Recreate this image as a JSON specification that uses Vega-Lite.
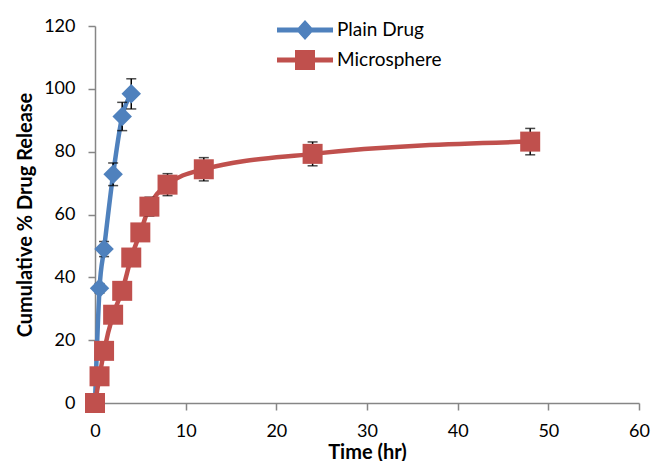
{
  "$schema": "https://vega.github.io/schema/vega-lite/v6.json",
  "width": 544,
  "height": 377,
  "autosize": "none",
  "padding": {"left": 95, "top": 26, "right": 17, "bottom": 58},
  "background": "white",
  "config": {
    "view": {"stroke": null},
    "font": "Lato",
    "axis": {
      "grid": false,
      "labelFlush": false,
      "domainColor": "#868686",
      "domainWidth": 1.5,
      "tickColor": "#868686",
      "tickWidth": 1.5,
      "tickSize": 7,
      "labelFont": "Lato",
      "labelFontSize": 18,
      "labelColor": "#000000",
      "titleFont": "Lato",
      "titleFontSize": 20,
      "titleFontWeight": "bold",
      "titleColor": "#000000"
    }
  },
  "data": {
    "values": [
      {"series": "Plain Drug", "time": 0, "pct": 0, "sd": 0},
      {"series": "Plain Drug", "time": 0.5, "pct": 36.5, "sd": 1.5},
      {"series": "Plain Drug", "time": 1, "pct": 49, "sd": 2.4},
      {"series": "Plain Drug", "time": 2, "pct": 72.8, "sd": 3.6},
      {"series": "Plain Drug", "time": 3, "pct": 91.2, "sd": 4.5},
      {"series": "Plain Drug", "time": 4, "pct": 98.4, "sd": 4.8},
      {"series": "Microsphere", "time": 0, "pct": 0, "sd": 0},
      {"series": "Microsphere", "time": 0.5, "pct": 8.5, "sd": 1},
      {"series": "Microsphere", "time": 1, "pct": 16.6, "sd": 1.5},
      {"series": "Microsphere", "time": 2, "pct": 28.1, "sd": 2},
      {"series": "Microsphere", "time": 3, "pct": 35.7, "sd": 2},
      {"series": "Microsphere", "time": 4, "pct": 46.3, "sd": 2.5},
      {"series": "Microsphere", "time": 5, "pct": 54.3, "sd": 2.5},
      {"series": "Microsphere", "time": 6, "pct": 62.5, "sd": 3},
      {"series": "Microsphere", "time": 8, "pct": 69.5, "sd": 3.5},
      {"series": "Microsphere", "time": 12, "pct": 74.4, "sd": 3.7},
      {"series": "Microsphere", "time": 24, "pct": 79.3, "sd": 3.8},
      {"series": "Microsphere", "time": 48, "pct": 83.2, "sd": 4.2}
    ]
  },
  "encoding": {
    "x": {"field": "time", "type": "quantitative", "title": "Time (hr)",
      "scale": {"domain": [0, 60], "nice": false, "padding": 0, "zero": false},
      "axis": {"values": [0, 10, 20, 30, 40, 50, 60], "labelPadding": 12, "titlePadding": 2}},
    "y": {"field": "pct", "type": "quantitative", "title": "Cumulative % Drug Release",
      "scale": {"domain": [0, 120], "nice": false, "padding": 0},
      "axis": {"values": [0, 20, 40, 60, 80, 100, 120], "labelPadding": 13, "titlePadding": 8}}
  },
  "layer": [
    {
      "mark": {"type": "line", "interpolate": "monotone", "strokeWidth": 4.5, "strokeCap": "round"},
      "encoding": {
        "color": {"field": "series", "type": "nominal",
          "scale": {"domain": ["Plain Drug", "Microsphere"], "range": ["#4F81BD", "#C0504D"]},
          "legend": {
            "orient": "none", "legendX": 200, "legendY": -6, "title": null, "padding": 0,
            "labelFont": "Lato", "labelFontSize": 19, "labelColor": "#000000",
            "symbolSize": 400, "rowPadding": 10, "labelOffset": 22,
            "encode": {"symbols": {"update": {
              "shape": {"signal": "datum.value === 'Plain Drug' ? 'M-2.8,-0.25L2.8,-0.25L2.8,0.25L-2.8,0.25Z M-0.9,0L0,-1L0.9,0L0,1Z' : 'M-2.8,-0.25L2.8,-0.25L2.8,0.25L-2.8,0.25Z M-1,-1L1,-1L1,1L-1,1Z'"},
              "fill": {"signal": "datum.value === 'Plain Drug' ? '#4F81BD' : '#C0504D'"},
              "stroke": {"value": "transparent"},
              "strokeWidth": {"value": 0},
              "opacity": {"value": 1},
              "size": {"value": 400}
            }}}
          }}
      }
    },
    {
      "mark": {"type": "errorbar", "color": "black", "ticks": {"size": 10, "color": "black", "thickness": 1.5}, "rule": {"color": "black", "strokeWidth": 1.5}},
      "encoding": {
        "yError": {"field": "sd"}
      }
    },
    {
      "transform": [{"filter": "datum.series === 'Plain Drug'"}],
      "mark": {"type": "point", "filled": true, "opacity": 1, "shape": "diamond", "size": 380, "color": "#4F81BD"}
    },
    {
      "transform": [{"filter": "datum.series === 'Microsphere'"}],
      "mark": {"type": "point", "filled": true, "opacity": 1, "shape": "square", "size": 400, "color": "#C0504D"}
    }
  ]
}
